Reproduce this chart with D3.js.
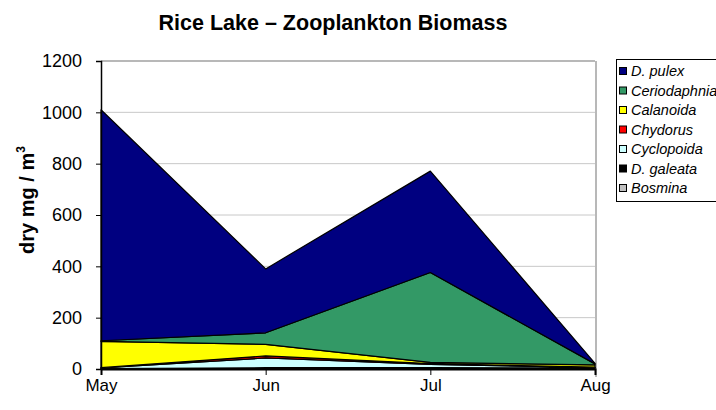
<!DOCTYPE html>
<html>
<head>
<meta charset="utf-8">
<script src="https://cdn.jsdelivr.net/npm/d3@7"></script>
<style>
  html, body { margin: 0; padding: 0; background: #fff; }
  svg { display: block; font-family: "Liberation Sans", Arial, sans-serif; }
</style>
</head>
<body>
<svg id="chart" width="716" height="410"></svg>
<script>
// ---- Data ----
const months = ["May", "Jun", "Jul", "Aug"];
// series listed bottom-to-top in stack order
const seriesNames = ["Bosmina", "D. galeata", "Cyclopoida", "Chydorus", "Calanoida", "Ceriodaphnia", "D. pulex"];
const bosmina      = [0, 0, 0, 0];
const dGaleata     = [2, 5, 5, 4];
const cyclopoida   = [2, 38, 13, 2];
const chydorus     = [1, 8, 3, 1];
const calanoida    = [103, 45, 5, 9];
const ceriodaphnia = [2, 45, 350, 4];
const dPulex       = [900, 249, 395, 2];
const seriesValues = [bosmina, dGaleata, cyclopoida, chydorus, calanoida, ceriodaphnia, dPulex];
const seriesColors = ["#C0C0C0", "#000000", "#CCFFFF", "#FF0000", "#FFFF00", "#339966", "#000080"];
const yTicks = [0, 200, 400, 600, 800, 1000, 1200];
const legendOrder = ["D. pulex", "Ceriodaphnia", "Calanoida", "Chydorus", "Cyclopoida", "D. galeata", "Bosmina"];

// ---- Layout ----
const svg = d3.select("#chart");
const mLeft = 101, mRight = 595, mTop = 61, mBottom = 369;

const x = d3.scalePoint().domain(months).range([mLeft, mRight]);
const y = d3.scaleLinear().domain([0, 1200]).range([mBottom, mTop]);

// table for stacking
const table = months.map((m, i) => {
  const row = { month: m };
  seriesNames.forEach((s, k) => row[s] = seriesValues[k][i]);
  return row;
});
const stacked = d3.stack().keys(seriesNames)(table);

// gridlines
svg.append("g").selectAll("line").data(yTicks.filter(t => t > 0)).join("line")
  .attr("x1", mLeft).attr("x2", mRight)
  .attr("y1", d => y(d)).attr("y2", d => y(d))
  .attr("stroke", d => d === 1200 ? "#A0A0A0" : "#C8C8C8")
  .attr("stroke-width", d => d === 1200 ? 1.5 : 1);

// right border
svg.append("line").attr("x1", mRight + 1).attr("x2", mRight + 1).attr("y1", mTop).attr("y2", mBottom + 8)
  .attr("stroke", "#A0A0A0").attr("stroke-width", 1.5);

// areas
const area = d3.area()
  .x((d, i) => x(months[i]))
  .y0(d => y(d[0]))
  .y1(d => y(d[1]));

svg.append("g").selectAll("path").data(stacked).join("path")
  .attr("d", area)
  .attr("fill", (d, i) => seriesColors[i])
  .attr("stroke", "#000")
  .attr("stroke-width", 1.2)
  .attr("stroke-linejoin", "round");

// y axis
const yAxis = d3.axisLeft(y).tickValues(yTicks).tickSize(5).tickPadding(14).tickFormat(d3.format("d"));
const gy = svg.append("g").attr("transform", `translate(${mLeft},0)`).call(yAxis);
gy.select(".domain").attr("stroke", "#000").attr("stroke-width", 1.5);
gy.selectAll(".tick line").attr("stroke", "#000");
gy.selectAll("text").attr("font-size", 18).attr("fill", "#000").attr("font-family", "Liberation Sans, Arial, sans-serif");

// x axis
const xAxis = d3.axisBottom(x).tickSize(6).tickPadding(4);
const gx = svg.append("g").attr("transform", `translate(0,${mBottom})`).call(xAxis);
gx.select(".domain").attr("stroke", "#000").attr("stroke-width", 2);
gx.selectAll(".tick line").attr("stroke", "#000");
gx.selectAll("text").attr("font-size", 17).attr("fill", "#000").attr("font-family", "Liberation Sans, Arial, sans-serif");

// title
svg.append("text").attr("x", 333).attr("y", 30).attr("text-anchor", "middle")
  .attr("font-size", 21.5).attr("font-weight", "bold").text("Rice Lake – Zooplankton Biomass");

// y label
const yl = svg.append("text").attr("transform", "translate(34,200) rotate(-90)")
  .attr("text-anchor", "middle").attr("font-size", 20).attr("font-weight", "bold");
yl.append("tspan").text("dry mg / m");
yl.append("tspan").attr("font-size", 12).attr("dy", -9).text("3");

// legend
const lg = svg.append("g");
lg.append("rect").attr("x", 616.5).attr("y", 59.5).attr("width", 120).attr("height", 142)
  .attr("fill", "#fff").attr("stroke", "#000").attr("stroke-width", 1);
legendOrder.forEach((name, i) => {
  const k = seriesNames.indexOf(name);
  const cy = 71 + i * 19.5;
  lg.append("rect").attr("x", 619.5).attr("y", cy - 3.5).attr("width", 7).attr("height", 7)
    .attr("fill", seriesColors[k]).attr("stroke", "#000").attr("stroke-width", 1);
  lg.append("text").attr("x", 631).attr("y", cy + 5).attr("font-size", 14.5)
    .attr("font-style", "italic").text(name);
});
</script>
</body>
</html>
